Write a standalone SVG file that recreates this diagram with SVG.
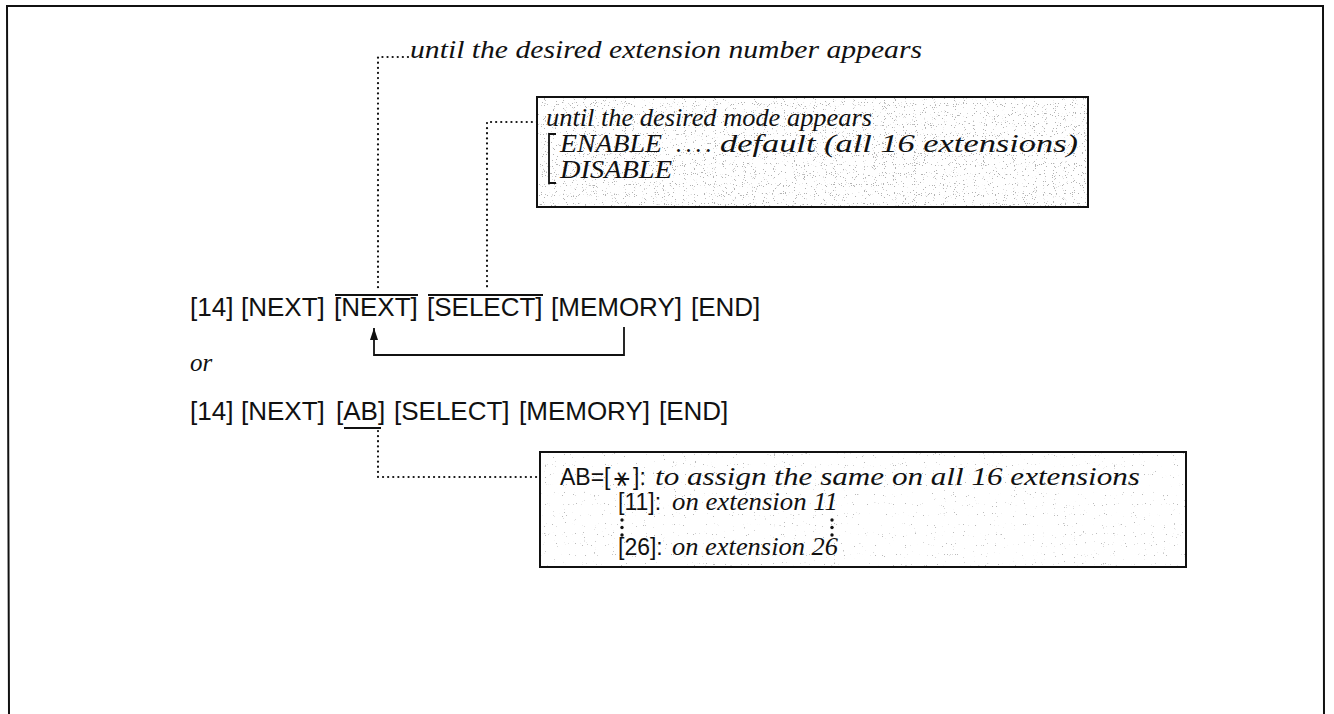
<svg xmlns="http://www.w3.org/2000/svg" width="1334" height="714" viewBox="0 0 1334 714">
<style>
.sans{font-family:"Liberation Sans",Arial,sans-serif;font-size:26px;fill:#111}
.sm{font-family:"Liberation Sans",Arial,sans-serif;font-size:23px;fill:#111}
.it{font-family:"Liberation Serif","Times New Roman",serif;font-style:italic;font-size:25px;fill:#111}
.edge{stroke:#111;stroke-width:2;fill:none}
.dot{fill:none;stroke:#111;stroke-width:2.2;stroke-dasharray:0.1 5;stroke-linecap:round}
.ln{fill:none;stroke:#111;stroke-width:1.8}
</style>
<defs>
<filter id="speckA" x="0" y="0" width="100%" height="100%">
<feTurbulence type="fractalNoise" baseFrequency="0.9" numOctaves="1" seed="7" result="n"/>
<feColorMatrix in="n" type="matrix" values="0 0 0 0 0.45  0 0 0 0 0.45  0 0 0 0 0.45  22 0 0 0 -14.2" result="d"/>
<feComposite in="d" in2="SourceGraphic" operator="over"/>
</filter>
<filter id="speckB" x="0" y="0" width="100%" height="100%">
<feTurbulence type="fractalNoise" baseFrequency="0.9" numOctaves="1" seed="11" result="n"/>
<feColorMatrix in="n" type="matrix" values="0 0 0 0 0.5  0 0 0 0 0.5  0 0 0 0 0.5  22 0 0 0 -15.6" result="d"/>
<feComposite in="d" in2="SourceGraphic" operator="over"/>
</filter>
<marker id="arr" viewBox="0 0 12 8" refX="12" refY="4" markerWidth="12" markerHeight="8" orient="auto" markerUnits="userSpaceOnUse">
<path d="M0,0 L12,4 L0,8 Z" fill="#111"/>
</marker>
</defs>

<path d="M9,714 L7,6 L1323,6 L1324,714" fill="none" stroke="#111" stroke-width="2"/>

<g id="note-extension">
<text class="it" x="410" y="58" textLength="512" lengthAdjust="spacingAndGlyphs" font-size="27">until the desired extension number appears</text>
</g>

<g id="box-mode">
<rect x="537" y="97" width="551" height="110" fill="#fff" filter="url(#speckA)"/>
<rect class="edge" x="537" y="97" width="551" height="110"/>
<text class="it" x="546" y="126" font-size="26" textLength="326" lengthAdjust="spacingAndGlyphs">until the desired mode appears</text>
<path class="ln" d="M556,134 L549,134 L549,183 L556,183" stroke-width="2"/>
<text class="it" x="560" y="152" font-size="26" textLength="102" lengthAdjust="spacingAndGlyphs">ENABLE</text>
<text class="it" x="676" y="152" textLength="36" lengthAdjust="spacing">. . . .</text>
<text class="it" x="720" y="152" font-size="27" textLength="358" lengthAdjust="spacingAndGlyphs">default (all 16 extensions)</text>
<text class="it" x="560" y="178" font-size="26" textLength="112" lengthAdjust="spacingAndGlyphs">DISABLE</text>
</g>

<g id="seq1">
<text class="sans" y="316"><tspan x="190">[14]</tspan><tspan x="241">[NEXT]</tspan><tspan x="334">[NEXT]</tspan><tspan x="427">[SELECT]</tspan><tspan x="551">[MEMORY]</tspan><tspan x="691">[END]</tspan></text>
<line class="ln" x1="335" y1="295" x2="418" y2="295"/>
<line class="ln" x1="428" y1="295" x2="543" y2="295"/>
</g>

<g id="or-label">
<text class="it" x="190" y="371">or</text>
</g>

<g id="seq2">
<text class="sans" y="420"><tspan x="190">[14]</tspan><tspan x="241">[NEXT]</tspan><tspan x="336">[AB]</tspan><tspan x="394">[SELECT]</tspan><tspan x="519">[MEMORY]</tspan><tspan x="659">[END]</tspan></text>
<line class="ln" x1="344" y1="428" x2="381" y2="428"/>
</g>

<g id="box-ab">
<rect x="540" y="452" width="646" height="115" fill="#fff" filter="url(#speckB)"/>
<rect class="edge" x="540" y="452" width="646" height="115"/>
<text class="sm" x="560" y="485">AB=[</text>
<text x="614" y="486" font-family="DejaVu Sans, sans-serif" font-size="26" fill="#111">⚹</text>
<text class="sm" x="633" y="485">]:</text>
<text class="it" x="655" y="485" font-size="23" textLength="485" lengthAdjust="spacingAndGlyphs">to assign the same on all 16 extensions</text>
<text class="sm" x="618" y="510">[11]:</text>
<text class="it" x="672" y="510" font-size="23" textLength="166" lengthAdjust="spacingAndGlyphs">on extension 11</text>
<g fill="#111"><circle cx="622" cy="520" r="1.7"/><circle cx="622" cy="527.5" r="1.7"/><circle cx="622" cy="535" r="1.7"/>
<circle cx="832" cy="520" r="1.7"/><circle cx="832" cy="527.5" r="1.7"/><circle cx="832" cy="535" r="1.7"/></g>
<text class="sm" x="618" y="555">[26]:</text>
<text class="it" x="672" y="555" font-size="23" textLength="166" lengthAdjust="spacingAndGlyphs">on extension 26</text>
</g>

<g id="connectors">
<path class="dot" d="M408,57 L378,57 L378,291"/>
<path class="dot" d="M537,122 L487,122 L487,291"/>
<path class="dot" d="M378,431 L378,477 L540,477"/>
<path class="ln" d="M624,327 L624,355 L374,355 L374,328" marker-end="url(#arr)"/>
</g>
</svg>
